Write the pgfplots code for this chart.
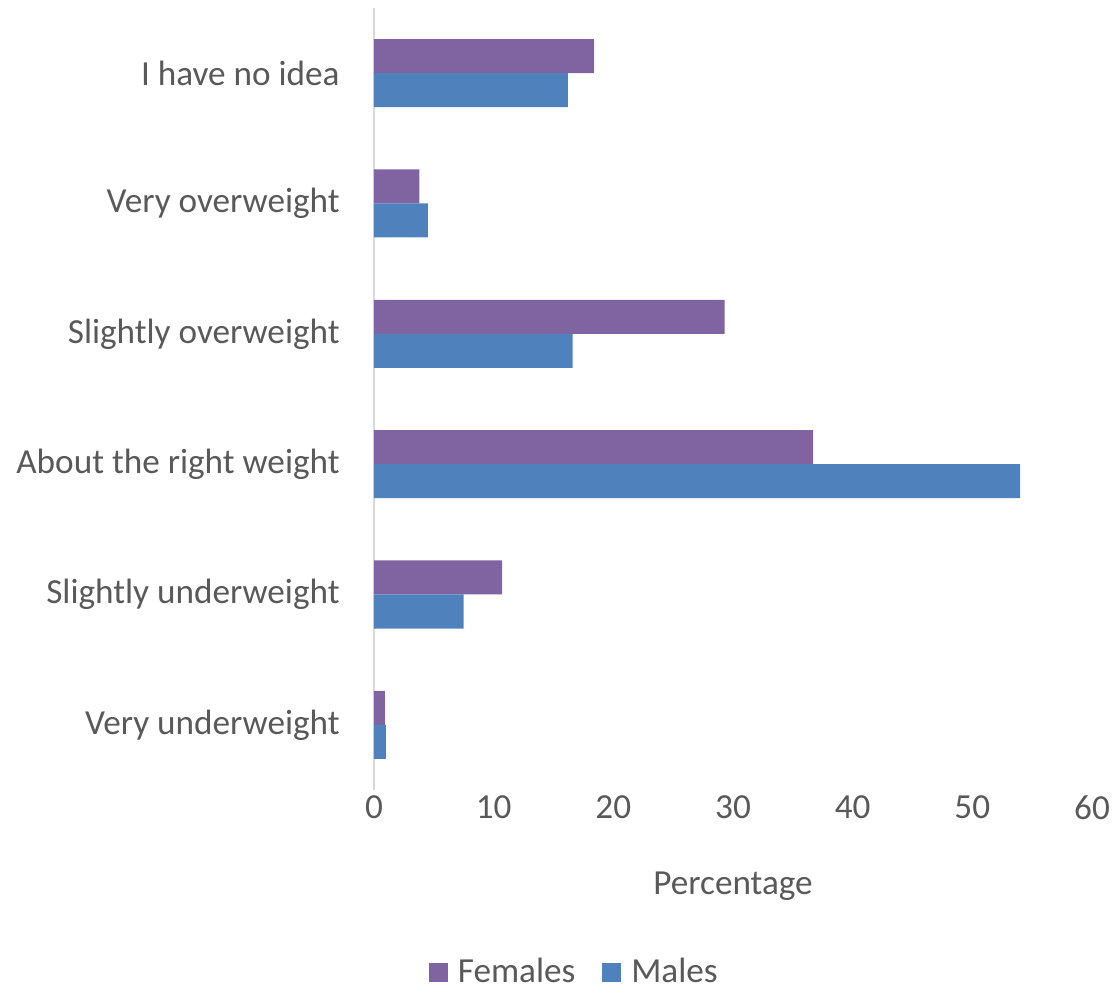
\documentclass[border=0pt]{standalone}
\usepackage{pgfplots}
\pgfplotsset{compat=1.18}
\usepackage{fontspec}
\setmainfont{Carlito}
\definecolor{fem}{HTML}{8064A2}
\definecolor{mal}{HTML}{4F81BD}
\definecolor{txt}{HTML}{595959}
\definecolor{axl}{HTML}{D9D9D9}
\begin{document}
\begin{tikzpicture}
\useasboundingbox (-187pt,-99.5pt) rectangle (371.5pt,395pt);
\begin{axis}[
  at={(0pt,0pt)}, anchor=south west,
  scale only axis, width=359pt, height=391pt,
  xmin=0, xmax=60, ymin=-0.5, ymax=5.5,
  xbar, bar width=17pt,
  xtick={0,10,...,60},
  ytick={0,1,2,3,4,5},
  yticklabels={Very underweight,Slightly underweight,About the right weight,Slightly overweight,Very overweight,I have no idea},
  major tick length=0pt,
  axis y line*=left, axis x line*=bottom,
  y axis line style={draw=axl, line width=1pt, -},
  x axis line style={draw=none},
  /pgf/number format/assume math mode=true,
  tick label style={font=\fontsize{17.6}{21}\selectfont, text=txt},
  xticklabel style={anchor=north, inner sep=0pt, yshift=-2.5pt},
  yticklabel style={anchor=east, inner sep=0pt, xshift=-17pt},
  xlabel={Percentage},
  xlabel style={font=\fontsize{17.6}{21}\selectfont, text=txt, at={(axis description cs:0.5,-0.1228)}, anchor=center},
  legend style={draw=none, font=\fontsize{17.6}{21}\selectfont, text=txt, at={(axis description cs:0.281,-0.233)}, anchor=center, legend columns=2, /tikz/every even column/.append style={column sep=11pt}, /tikz/every odd column/.append style={column sep=2.5pt}, inner sep=0pt, nodes={inner sep=2.5pt}},
  legend image code/.code={\fill[#1] (0pt,-4.75pt) rectangle (9.5pt,4.75pt);},
]
\addplot[fill=fem, draw=none, bar shift=8.5pt] coordinates {
(0.9,0) (10.7,1) (36.7,2) (29.3,3) (3.8,4) (18.4,5)};
\addlegendentry{Females}
\addplot[fill=mal, draw=none, bar shift=-8.5pt] coordinates {
(1.0,0) (7.5,1) (54.0,2) (16.6,3) (4.5,4) (16.2,5)};
\addlegendentry{Males}
\end{axis}
\end{tikzpicture}
\end{document}
